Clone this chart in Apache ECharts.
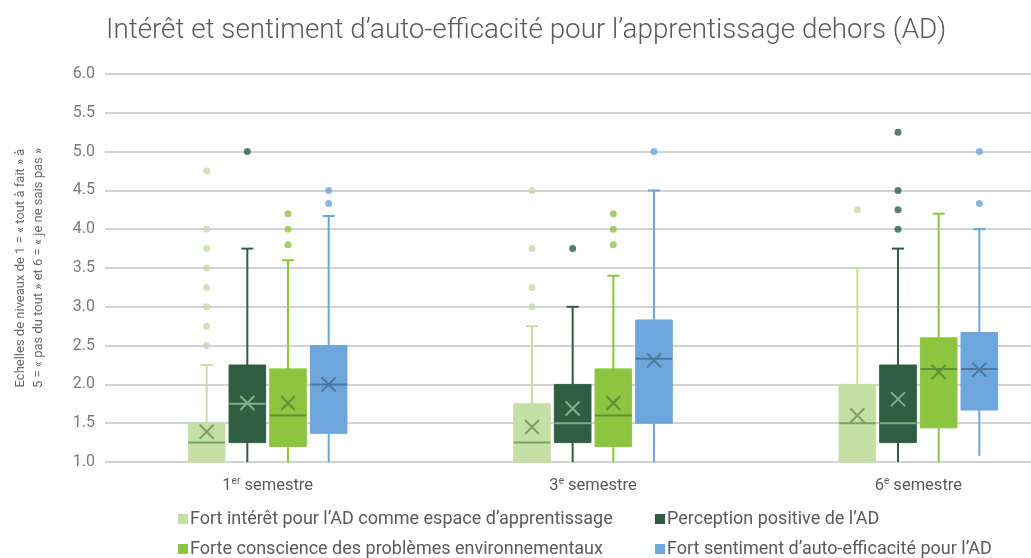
<!DOCTYPE html>
<html>
<head>
<meta charset="utf-8">
<script src="https://cdn.jsdelivr.net/npm/echarts@6/dist/echarts.min.js"></script>
<style>
    html, body { margin: 0; padding: 0; background: #fff; }
    #main { width: 1031px; height: 558px; }
</style>
</head>
<body>
<div id="main"></div>
<script>
// semestres (axe x)
var semestres = ['1er semestre', '3e semestre', '6e semestre']
var yTicks = [1.0, 6.0, 0.5]

var noms = [
    'Fort intérêt pour l\u2019AD comme espace d\u2019apprentissage',
    'Perception positive de l\u2019AD',
    'Forte conscience des problèmes environnementaux',
    'Fort sentiment d\u2019auto-efficacité pour l\u2019AD'
]

// [min, Q1, médiane, Q3, max] par semestre
var interet = [[1, 1, 1.25, 1.5, 2.25], [1, 1, 1.25, 1.75, 2.75], [1, 1, 1.5, 2, 3.5]]
var perception = [[1, 1.25, 1.75, 2.25, 3.75], [1, 1.25, 1.5, 2, 3], [1, 1.25, 1.5, 2.25, 3.75]]
var conscience = [[1, 1.2, 1.6, 2.2, 3.6], [1, 1.2, 1.6, 2.2, 3.4], [1, 1.44, 2.2, 2.6, 4.2]]
var sentiment = [[1, 1.37, 2, 2.5, 4.17], [1, 1.5, 2.33, 2.83, 4.5], [1.08, 1.67, 2.2, 2.67, 4]]

// moyennes (x)
var interetMoy = [1.39, 1.45, 1.6]
var perceptionMoy = [1.76, 1.69, 1.81]
var conscienceMoy = [1.76, 1.76, 2.16]
var sentimentMoy = [2.0, 2.31, 2.19]

// valeurs extrêmes
var interetExt = [[2.5, 2.75, 3, 3.25, 3.5, 3.75, 4, 4.75], [3, 3.25, 3.75, 4.5], [4.25]]
var perceptionExt = [[5], [3.75], [4, 4.25, 4.5, 5.25]]
var conscienceExt = [[3.8, 4, 4.2], [3.8, 4, 4.2], []]
var sentimentExt = [[4.33, 4.5], [5], [4.33, 5]]

var couleurs = ['#c5dfa5', '#2f5e43', '#8cc540', '#6ca6dc']
var couleursMarque = ['#7ba266', '#82ae8e', '#5c9134', '#48789f']
var couleursExt = ['#c4d9ab', '#2f5e43', '#8cc540', '#6ca6dc']

var stats = [interet, perception, conscience, sentiment]
var moyennes = [interetMoy, perceptionMoy, conscienceMoy, sentimentMoy]
var extremes = [interetExt, perceptionExt, conscienceExt, sentimentExt]

var police = 'Roboto, "Noto Sans", sans-serif'

// position sur l'axe caché : 8 unités par semestre, 4 boîtes au milieu
function posX(g, s) {
    return g * 8 + 2.5 + s
}

function dessinBoite(couleur, marque) {
    return function (params, api) {
        var x = api.value(0)
        var w = api.size([0.9, 0])[0]
        var pMin = api.coord([x, api.value(1)])
        var pQ1 = api.coord([x, api.value(2)])
        var pMed = api.coord([x, api.value(3)])
        var pQ3 = api.coord([x, api.value(4)])
        var pMax = api.coord([x, api.value(5)])
        var pMoy = api.coord([x, api.value(6)])
        var cx = pMin[0]
        var trait = { stroke: couleur, lineWidth: 2 }
        var cap = 6
        var k = 7
        return {
            type: 'group',
            children: [
                { type: 'line', shape: { x1: cx, y1: pMin[1], x2: cx, y2: pQ1[1] }, style: trait },
                { type: 'line', shape: { x1: cx, y1: pQ3[1], x2: cx, y2: pMax[1] }, style: trait },
                { type: 'line', shape: { x1: cx - cap, y1: pMax[1], x2: cx + cap, y2: pMax[1] }, style: trait },
                {
                    type: 'rect',
                    shape: { x: cx - w / 2, y: pQ3[1], width: w, height: pQ1[1] - pQ3[1] },
                    style: { fill: couleur, stroke: couleur, lineWidth: 1 }
                },
                { type: 'line', shape: { x1: cx - w / 2, y1: pMed[1], x2: cx + w / 2, y2: pMed[1] }, style: { stroke: marque, lineWidth: 2 } },
                { type: 'line', shape: { x1: cx - k, y1: pMoy[1] - k, x2: cx + k, y2: pMoy[1] + k }, style: { stroke: marque, lineWidth: 2 } },
                { type: 'line', shape: { x1: cx - k, y1: pMoy[1] + k, x2: cx + k, y2: pMoy[1] - k }, style: { stroke: marque, lineWidth: 2 } }
            ]
        }
    }
}

var series = []
for (var s = 0; s < 4; s++) {
    var boites = []
    var points = []
    for (var g = 0; g < semestres.length; g++) {
        var b = stats[s][g]
        boites.push([posX(g, s), b[0], b[1], b[2], b[3], b[4], moyennes[s][g]])
        for (var j = 0; j < extremes[s][g].length; j++) {
            points.push([posX(g, s), extremes[s][g][j]])
        }
    }
    series.push({
        name: noms[s],
        type: 'custom',
        xAxisIndex: 1,
        itemStyle: { color: couleurs[s] },
        renderItem: dessinBoite(couleurs[s], couleursMarque[s]),
        encode: { x: 0, y: [1, 2, 3, 4, 5] },
        data: boites
    })
    series.push({
        name: noms[s],
        type: 'scatter',
        xAxisIndex: 1,
        symbol: 'circle',
        symbolSize: 7,
        itemStyle: { color: couleursExt[s] },
        data: points
    })
}

// une légende par entrée, en 2 colonnes x 2 lignes
var legendePos = [[173, 505], [650, 505], [173, 535], [650, 535]]
var legendes = []
for (var i = 0; i < noms.length; i++) {
    legendes.push({
        left: legendePos[i][0],
        top: legendePos[i][1],
        itemWidth: 10,
        itemHeight: 10,
        itemGap: 4,
        icon: 'rect',
        textStyle: { fontFamily: police, fontSize: 18, color: '#5a5a5a', padding: [0, 0, 0, -3] },
        data: [noms[i]]
    })
}

var myChart = echarts.init(document.getElementById('main'))

var option = {
    animation: false,
    title: {
        text: 'Intérêt et sentiment d\u2019auto-efficacité pour l\u2019apprentissage dehors (AD)',
        left: 101,
        top: 12,
        textStyle: { fontFamily: police, fontSize: 27.8, fontWeight: 300, color: '#5a5a5a' }
    },
    legend: legendes,
    grid: {
        left: 105,
        top: 74,
        width: 976,
        height: 388,
        outerBoundsMode: 'none'
    },
    xAxis: [
        {
            type: 'category',
            data: semestres,
            axisLine: { show: false },
            axisTick: { show: false },
            axisLabel: {
                margin: 14,
                formatter: function (v) {
                    var m = v.match(/^(\d+)(\S+) (.*)$/)
                    return '{n|' + m[1] + '}{s|' + m[2] + '}{n| ' + m[3] + '}'
                },
                rich: {
                    n: { fontFamily: police, fontSize: 16.5, color: '#5a5a5a', lineHeight: 20 },
                    s: { fontFamily: police, fontSize: 10, color: '#5a5a5a', verticalAlign: 'top', lineHeight: 12 }
                }
            }
        },
        {
            type: 'value',
            min: 0,
            max: 24,
            show: false,
            splitLine: { show: false }
        }
    ],
    yAxis: {
        type: 'value',
        min: yTicks[0],
        max: yTicks[1],
        interval: yTicks[2],
        name: 'Echelles de niveaux de 1 = « tout à fait » à\n5 = « pas du tout » et 6 = « je ne sais pas »',
        nameLocation: 'middle',
        nameGap: 57,
        nameTextStyle: { fontFamily: police, fontSize: 13, color: '#6a6a6a', lineHeight: 18 },
        axisLine: { show: false },
        axisTick: { show: false },
        axisLabel: {
            margin: 10,
            fontFamily: police,
            fontSize: 16,
            color: '#7a7a7a',
            formatter: function (v) { return v.toFixed(1) }
        },
        splitLine: { lineStyle: { color: '#d3d3d3', width: 2 } }
    },
    series: series
}

myChart.setOption(option)
window.addEventListener('resize', function () {
    myChart.resize()
})
</script>
</body>
</html>
